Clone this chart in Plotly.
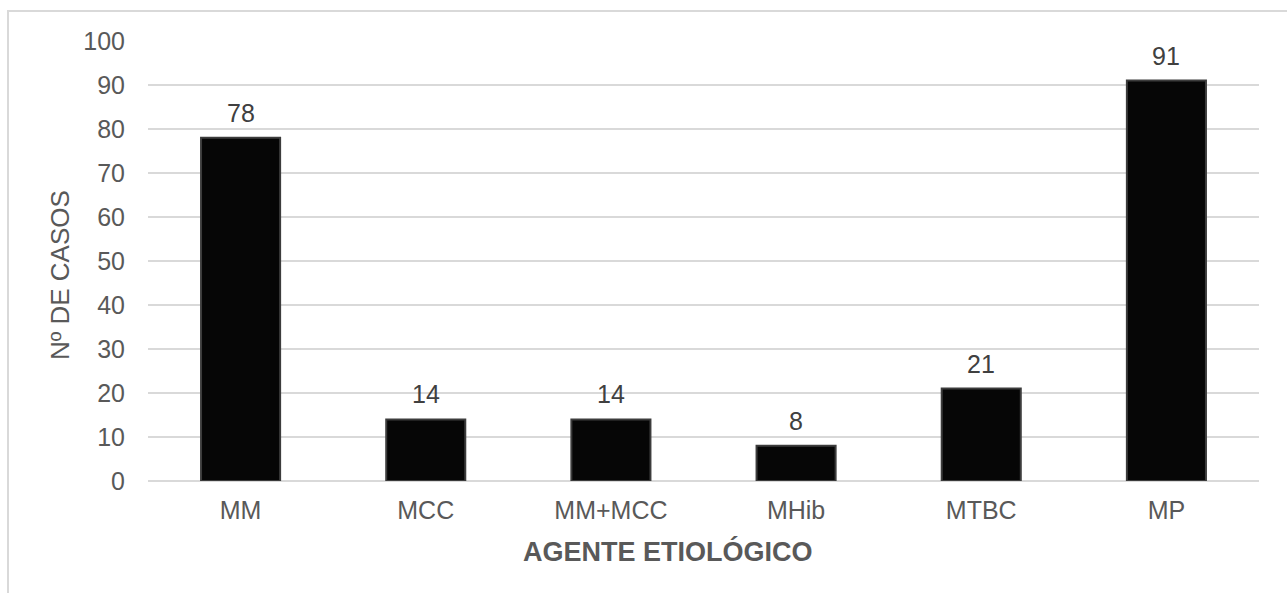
import plotly.graph_objects as go

categories = ["MM", "MCC", "MM+MCC", "MHib", "MTBC", "MP"]
casos = [78, 14, 14, 8, 21, 91]
y_ticks = [0, 10, 20, 30, 40, 50, 60, 70, 80, 90, 100]

W, H = 1287, 593
ml, mr, mt, mb = 148, 28, 41, 112
FONT = "Liberation Sans, Arial, sans-serif"

fig = go.Figure()
fig.add_trace(go.Bar(
    x=categories, y=casos,
    marker=dict(color="#060606", line=dict(color="#3c3c3c", width=2)),
    cliponaxis=False,
))

for c, v in zip(categories, casos):
    fig.add_annotation(x=c, y=v, text=str(v), showarrow=False,
                       yanchor="bottom", yshift=9,
                       font=dict(family=FONT, size=25, color="#404040"))

fig.update_layout(
    width=W, height=H,
    margin=dict(l=ml, r=mr, t=mt, b=mb, pad=0),
    paper_bgcolor="white", plot_bgcolor="white",
    bargap=0.573,
    showlegend=False,
    font=dict(family=FONT, size=25, color="#595959"),
    xaxis=dict(
        showgrid=False, showline=False, ticks="",
        tickfont=dict(size=25, color="#595959"),
        ticklabelstandoff=12,
    ),
    yaxis=dict(
        range=[0, 100], tickvals=y_ticks, showgrid=True,
        gridcolor="#d9d9d9", gridwidth=2,
        zeroline=True, zerolinecolor="#d9d9d9", zerolinewidth=2,
        showline=False, ticks="",
        tickfont=dict(size=25, color="#595959"),
        ticklabelstandoff=22,
    ),
)

# chart frame (cropped on right/bottom like the reference)
fig.add_shape(type="rect", xref="paper", yref="paper",
              x0=(8 - ml) / (W - ml - mr), x1=(1300 - ml) / (W - ml - mr),
              y0=(H - mb - 620) / (H - mt - mb), y1=(H - mb - 11) / (H - mt - mb),
              line=dict(color="#d9d9d9", width=2), layer="below")

# axis titles
fig.add_annotation(text="<b>AGENTE ETIOLÓGICO</b>", xref="paper", yref="paper",
                   x=(668 - ml) / (W - ml - mr), y=(H - mb - 551) / (H - mt - mb),
                   showarrow=False, xanchor="center", yanchor="middle",
                   font=dict(size=27, color="#595959"))
fig.add_annotation(text="Nº DE CASOS", xref="paper", yref="paper",
                   x=(60 - ml) / (W - ml - mr), y=(H - mb - 275) / (H - mt - mb),
                   showarrow=False, textangle=-90, xanchor="center", yanchor="middle",
                   font=dict(size=26, color="#595959"))

fig.write_html("out.html")
